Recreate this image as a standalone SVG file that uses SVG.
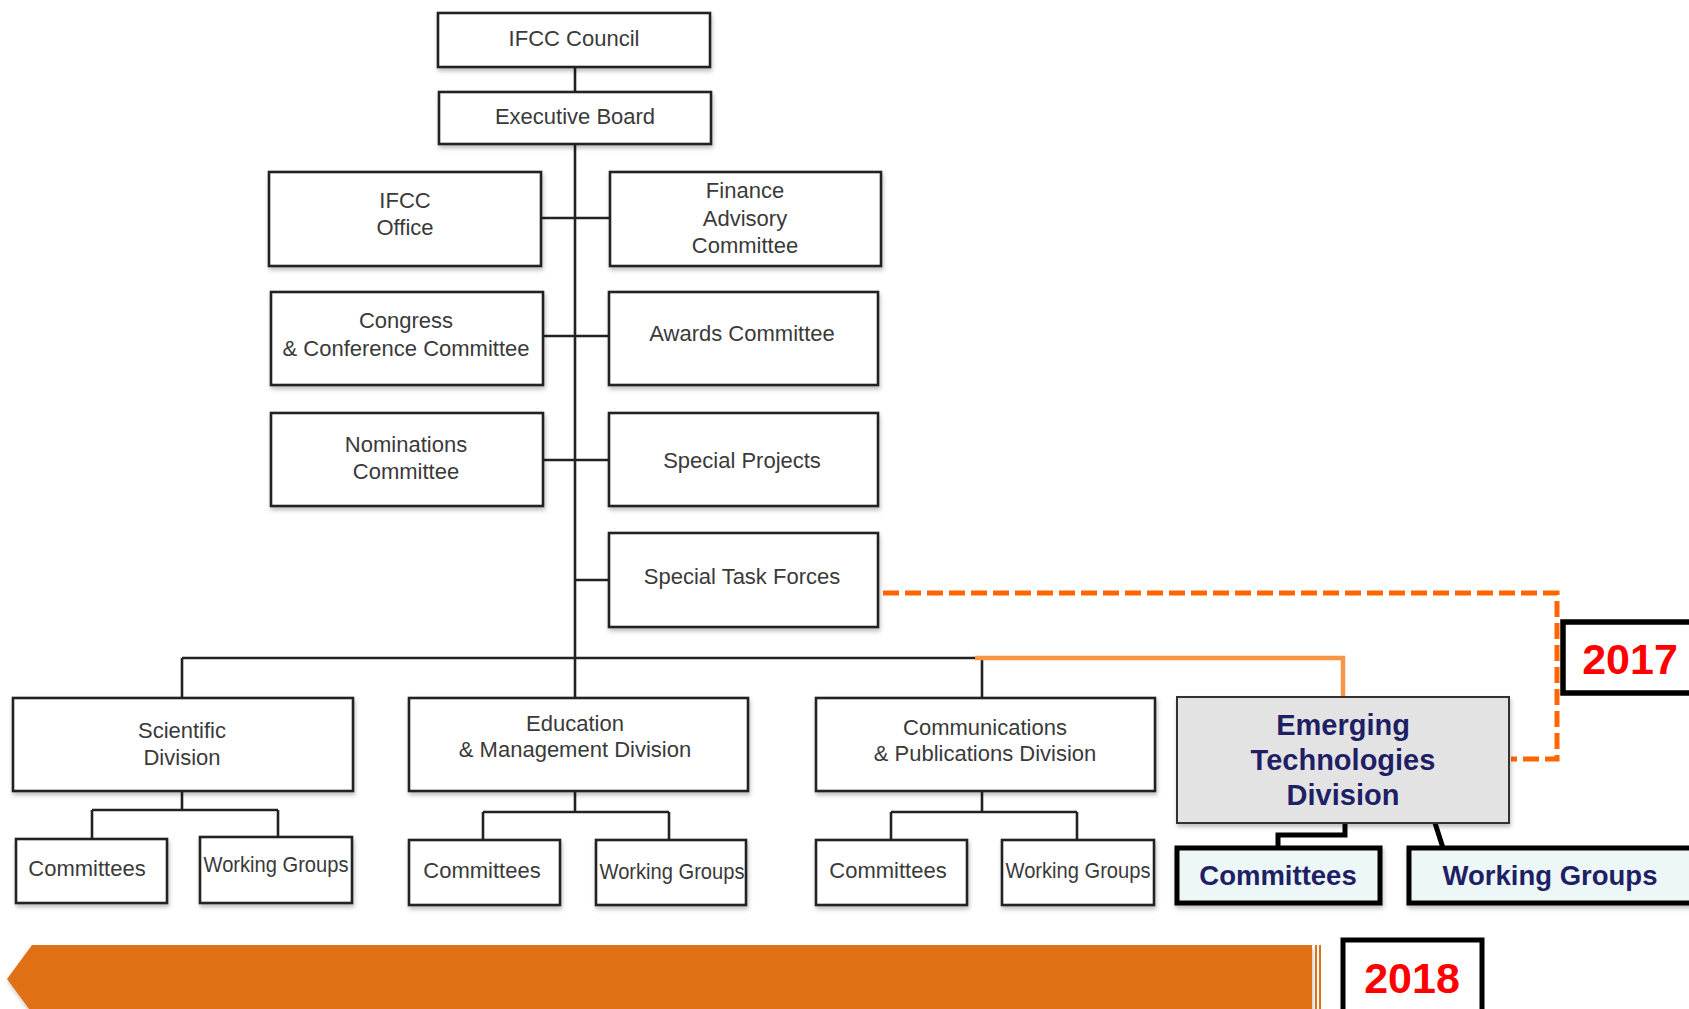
<svg xmlns="http://www.w3.org/2000/svg" width="1689" height="1009" viewBox="0 0 1689 1009">
<defs>
<filter id="sh" x="-5%" y="-5%" width="112%" height="125%">
<feDropShadow dx="1" dy="3" stdDeviation="2" flood-color="#000" flood-opacity="0.25"/>
</filter>
<style>
.b{fill:#fff;stroke:#222;stroke-width:2.6;filter:url(#sh)}
.t{font-family:"Liberation Sans",Arial,sans-serif;font-size:22px;fill:#3a3a3a;text-anchor:middle}
.ln{stroke:#222;stroke-width:2.6;fill:none}
.et{fill:#e3e3e3;stroke:#333;stroke-width:2;filter:url(#sh)}
.eb{fill:#eef7f7;stroke:#000;stroke-width:5;filter:url(#sh)}
.bt{font-family:"Liberation Sans",Arial,sans-serif;font-weight:bold;fill:#1f1f66;text-anchor:middle}
.yr{font-family:"Liberation Sans",Arial,sans-serif;font-weight:bold;font-size:43px;fill:#ff0000;text-anchor:middle}
</style>
</defs>
<rect width="1689" height="1009" fill="#fff"/>
<g id="connectors">
<path class="ln" d="M575 67V92M575 144V658M541 218H610M543 336H609M543 460H609M575 580H609M182 658H982M182 658V698M575 658V698M982 658V698"/>
<path class="ln" d="M182 791V810M92 810H278M92 810V839M278 810V837"/>
<path class="ln" d="M575 791V812M483 812H669M483 812V840M669 812V840"/>
<path class="ln" d="M982 791V812M891 812H1077M891 812V840M1077 812V840"/>
<path d="M975 658H1343V697" fill="none" stroke="#f79646" stroke-width="4.5"/>
<path d="M883 593H1557V759H1511" fill="none" stroke="#ff6600" stroke-width="5" stroke-dasharray="16 6"/>
<path d="M1345 823V835H1278V848M1435 823L1443 848" fill="none" stroke="#000" stroke-width="5"/>
</g>
<g id="council"><rect class="b" x="438" y="13" width="272" height="54"/><text class="t" x="574" y="46">IFCC Council</text></g>
<g id="exec"><rect class="b" x="439" y="92" width="272" height="52"/><text class="t" x="575" y="124">Executive Board</text></g>
<g id="office"><rect class="b" x="269" y="172" width="272" height="94"/><text class="t" x="405" y="208">IFCC</text><text class="t" x="405" y="235">Office</text></g>
<g id="finance"><rect class="b" x="610" y="172" width="271" height="94"/><text class="t" x="745" y="198">Finance</text><text class="t" x="745" y="226">Advisory</text><text class="t" x="745" y="253">Committee</text></g>
<g id="congress"><rect class="b" x="271" y="292" width="272" height="93"/><text class="t" x="406" y="328">Congress</text><text class="t" x="406" y="356">&amp; Conference Committee</text></g>
<g id="awards"><rect class="b" x="609" y="292" width="269" height="93"/><text class="t" x="742" y="341">Awards Committee</text></g>
<g id="nominations"><rect class="b" x="271" y="413" width="272" height="93"/><text class="t" x="406" y="452">Nominations</text><text class="t" x="406" y="479">Committee</text></g>
<g id="projects"><rect class="b" x="609" y="413" width="269" height="93"/><text class="t" x="742" y="468">Special Projects</text></g>
<g id="taskforces"><rect class="b" x="609" y="533" width="269" height="94"/><text class="t" x="742" y="584">Special Task Forces</text></g>
<g id="scientific"><rect class="b" x="13" y="698" width="340" height="93"/><text class="t" x="182" y="738">Scientific</text><text class="t" x="182" y="765">Division</text></g>
<g id="education"><rect class="b" x="409" y="698" width="339" height="93"/><text class="t" x="575" y="731">Education</text><text class="t" x="575" y="757">&amp; Management Division</text></g>
<g id="communications"><rect class="b" x="816" y="698" width="339" height="93"/><text class="t" x="985" y="735">Communications</text><text class="t" x="985" y="761">&amp; Publications Division</text></g>
<g id="sci-committees"><rect class="b" x="16" y="839" width="151" height="64"/><text class="t" x="87" y="876">Committees</text></g>
<g id="sci-wg"><rect class="b" x="200" y="837" width="152" height="66"/><text class="t" x="276" y="872" textLength="145" lengthAdjust="spacingAndGlyphs">Working Groups</text></g>
<g id="edu-committees"><rect class="b" x="409" y="840" width="151" height="65"/><text class="t" x="482" y="878">Committees</text></g>
<g id="edu-wg"><rect class="b" x="596" y="840" width="150" height="65"/><text class="t" x="672" y="879" textLength="145" lengthAdjust="spacingAndGlyphs">Working Groups</text></g>
<g id="comm-committees"><rect class="b" x="816" y="840" width="151" height="65"/><text class="t" x="888" y="878">Committees</text></g>
<g id="comm-wg"><rect class="b" x="1002" y="840" width="152" height="65"/><text class="t" x="1078" y="878" textLength="145" lengthAdjust="spacingAndGlyphs">Working Groups</text></g>
<g id="emerging"><rect class="et" x="1177" y="697" width="332" height="126"/><text class="bt" font-size="29" x="1343" y="735">Emerging</text><text class="bt" font-size="29" x="1343" y="770">Technologies</text><text class="bt" font-size="29" x="1343" y="805">Division</text></g>
<g id="et-committees"><rect class="eb" x="1177" y="848" width="203" height="55"/><text class="bt" font-size="27.5" x="1278" y="885">Committees</text></g>
<g id="et-wg"><rect class="eb" x="1409" y="848" width="290" height="55"/><text class="bt" font-size="27.5" x="1550" y="885">Working Groups</text></g>
<g id="y2017"><rect x="1563" y="622" width="140" height="71" fill="#fff" stroke="#000" stroke-width="5.5"/><text class="yr" x="1630" y="674">2017</text></g>
<g id="banner"><path d="M32 945H1312V1013H32L7 979Z" fill="#e07015" filter="url(#sh)"/><rect x="1315" y="945" width="2" height="68" fill="#e07015"/><rect x="1319" y="945" width="2" height="68" fill="#e07015"/></g>
<g id="y2018"><rect x="1343" y="940" width="139" height="80" fill="#fff" stroke="#000" stroke-width="5"/><text class="yr" x="1412" y="993">2018</text></g>
</svg>
